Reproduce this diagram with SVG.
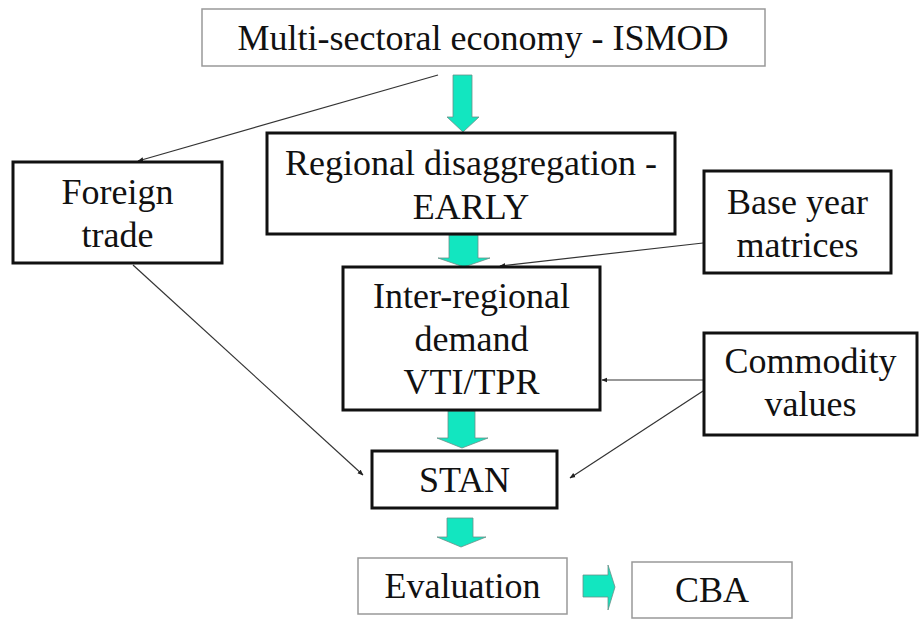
<svg xmlns="http://www.w3.org/2000/svg" width="919" height="620" viewBox="0 0 919 620">
<defs>
<style>
text{font-family:"Liberation Serif","Times New Roman",serif;font-size:36px;fill:#111;text-anchor:middle}
.thin{fill:#fff;stroke:#999;stroke-width:1.5}
.thick{fill:#fff;stroke:#111;stroke-width:3}
.blk{fill:#12E6C0;stroke:#6b8f88;stroke-width:0.8}
.con{stroke:#333;stroke-width:1.2;fill:none;marker-end:url(#ah)}
</style>
<marker id="ah" viewBox="0 0 10 10" refX="9" refY="5" markerWidth="6" markerHeight="6" orient="auto" markerUnits="userSpaceOnUse">
<path d="M0,1 L10,5 L0,9 Z" fill="#222"/>
</marker>
</defs>
<rect width="919" height="620" fill="#fff"/>
<g id="connectors">
<line class="con" x1="438" y1="75" x2="138" y2="161"/>
<line class="con" x1="133" y1="265" x2="363" y2="475"/>
<line class="con" x1="703" y1="243" x2="500" y2="266"/>
<line class="con" x1="703" y1="380" x2="602" y2="380"/>
<line class="con" x1="703" y1="391" x2="570" y2="478"/>
<polygon class="blk" points="453,75 472,75 472,117 479,117 463,132 447,117 453,117"/>
<polygon class="blk" points="449,235 478,235 478,258 490,258 464,267 438,258 449,258"/>
<polygon class="blk" points="448,411 475,411 475,438 488,438 462,448 437,438 448,438"/>
<polygon class="blk" points="447,518 473,518 473,537 486,537 461,547 437,537 447,537"/>
<polygon class="blk" points="583,575 608,575 608,565 615,587 608,610 608,597 583,597"/>
</g>
<g id="ismod">
<rect class="thin" x="202" y="9" width="563" height="57"/>
<text x="483" y="49.5">Multi-sectoral economy - ISMOD</text>
</g>
<g id="early">
<rect class="thick" x="267" y="133" width="408" height="101"/>
<text x="471" y="175">Regional disaggregation -</text>
<text x="471" y="219">EARLY</text>
</g>
<g id="foreign">
<rect class="thick" x="13" y="162" width="209" height="101"/>
<text x="117.5" y="204">Foreign</text>
<text x="117.5" y="247">trade</text>
</g>
<g id="base">
<rect class="thick" x="704" y="171" width="187" height="102"/>
<text x="797.5" y="214">Base year</text>
<text x="797.5" y="257">matrices</text>
</g>
<g id="vti">
<rect class="thick" x="343" y="267" width="257" height="143"/>
<text x="471.5" y="307.5">Inter-regional</text>
<text x="471.5" y="350.5">demand</text>
<text x="471.5" y="393.5">VTI/TPR</text>
</g>
<g id="commodity">
<rect class="thick" x="704" y="333" width="213" height="102"/>
<text x="810.5" y="373">Commodity</text>
<text x="810.5" y="416">values</text>
</g>
<g id="stan">
<rect class="thick" x="372" y="451" width="185" height="57"/>
<text x="464.5" y="492">STAN</text>
</g>
<g id="evaluation">
<rect class="thin" x="358" y="558" width="209" height="56"/>
<text x="462.5" y="598">Evaluation</text>
</g>
<g id="cba">
<rect class="thin" x="632" y="562" width="160" height="56"/>
<text x="712" y="602">CBA</text>
</g>
</svg>
